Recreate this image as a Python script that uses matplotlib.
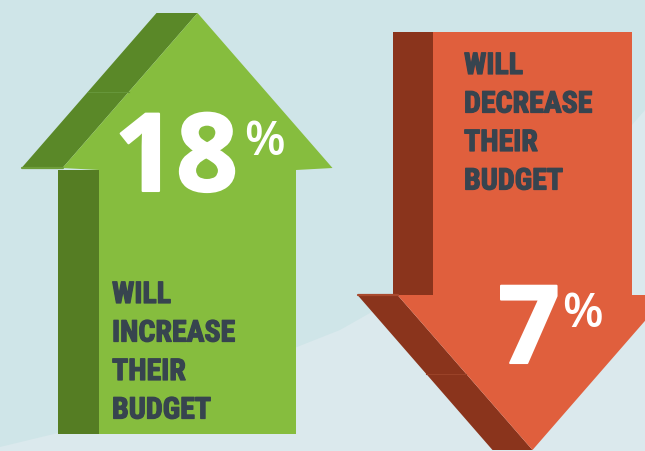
import matplotlib
matplotlib.use("Agg")
import matplotlib.pyplot as plt
from matplotlib.patches import Polygon
from matplotlib import font_manager
import matplotlib.patheffects as pe

# ---- data ----
values = [18, 7]
labels = ["WILL\nINCREASE\nTHEIR\nBUDGET", "WILL\nDECREASE\nTHEIR\nBUDGET"]
directions = ["up", "down"]

# ---- style ----
BG_TOP = "#cfe5e8"
BG_LOW = "#dbe9ed"
LIGHT = ["#86bd3e", "#e05f3d"]
DARK_SHAFT = ["#557d23", "#8a341c"]
DARK_HEAD = ["#5a8828", "#8a341c"]
RIM = ["#6e9e3a", "#a84a2e"]
TEXT = "#37444f"

names = {f.name for f in font_manager.fontManager.ttflist}
cond = "DejaVu Sans"
for cand in ["Liberation Sans Narrow", "Roboto Condensed", "Open Sans Condensed", "Liberation Sans"]:
    if cand in names:
        cond = cand
        break
numfont = "Open Sans" if "Open Sans" in names else "DejaVu Sans"

fig = plt.figure(figsize=(6.45, 4.51), dpi=100)
ax = fig.add_axes([0, 0, 1, 1])
W, H = 645, 451
ax.set_xlim(0, W)
ax.set_ylim(H, 0)
ax.axis("off")
fig.patch.set_facecolor(BG_TOP)

# background lighter hill
ax.add_patch(Polygon([(0, 447), (58, 433), (180, 391), (297, 347), (340, 330),
                      (370, 313), (500, 223), (632, 125), (645, 110),
                      (645, 451), (0, 451)], closed=True, fc=BG_LOW, ec="none"))

# ---- arrow layout (pixels) ----
layout = [
    dict(cx=197.5, sl=99, sr=296, top=170, bot=434, hw=135, tip=13, depth=41),
    dict(cx=532.5, sl=433, sr=632, top=32, bot=295, hw=135, tip=450, depth=40),
]

def draw_arrow(i, d, L):
    light, dshaft, dhead, rim = LIGHT[i], DARK_SHAFT[i], DARK_HEAD[i], RIM[i]
    dp = L["depth"]
    if d == "up":
        base = L["top"]
        ax.add_patch(Polygon([(L["sl"] - dp, base), (L["sl"], base), (L["sl"], L["bot"]),
                              (L["sl"] - dp, L["bot"])], fc=dshaft, ec="none"))
        hl = L["cx"] - L["hw"]
        ax.add_patch(Polygon([(hl - dp, base - 2), (hl, base - 2), (L["cx"], L["tip"]),
                              (L["cx"] - dp, L["tip"])], fc=dhead, ec="none"))
        ax.plot([hl - dp, hl], [base - 2, base - 2], color=rim, lw=1.6, solid_capstyle="round")
        ys = 92
        t = (base - 2 - ys) / (base - 2 - L["tip"])
        xs = hl + t * (L["cx"] - hl)
        ax.plot([xs - dp, xs], [ys, ys], color="#66963a", lw=0.8)
        ax.add_patch(Polygon([(L["sl"], L["bot"]), (L["sl"], base), (hl, base - 2),
                              (L["cx"], L["tip"]), (L["cx"] + L["hw"], base - 2),
                              (L["sr"], base), (L["sr"], L["bot"])], fc=light, ec="none"))
    else:
        base = L["bot"]
        ax.add_patch(Polygon([(L["sl"] - dp, L["top"]), (L["sl"], L["top"]), (L["sl"], base),
                              (L["sl"] - dp, base)], fc=dshaft, ec="none"))
        hl = L["cx"] - L["hw"]
        ax.add_patch(Polygon([(hl - dp, base), (hl, base), (L["cx"], L["tip"]),
                              (L["cx"] - dp, L["tip"])], fc=dhead, ec="none"))
        ax.plot([hl - dp, hl], [base, base], color=rim, lw=1.6, solid_capstyle="round")
        ys = 374
        t = (ys - base) / (L["tip"] - base)
        xs = hl + t * (L["cx"] - hl)
        ax.plot([xs - dp, xs], [ys, ys], color="#9a4228", lw=0.8)
        ax.add_patch(Polygon([(L["sl"], L["top"]), (L["sl"], base), (hl, base),
                              (L["cx"], L["tip"]), (L["cx"] + L["hw"], base),
                              (L["sr"], base), (L["sr"], L["top"])], fc=light, ec="none"))

for i, (d, L) in enumerate(zip(directions, layout)):
    draw_arrow(i, d, L)

# ---- text layout ----
num_pos = [(238, 191), (560, 363)]
pct_pos = [(244, 155), (562, 327)]
lab_pos = [(112, 303), (464, 74)]
line_gap = 38.5

for i in range(2):
    nx, ny = num_pos[i]
    ax.text(nx, ny, f"{values[i]}", fontsize=78, fontweight="bold", family=numfont,
            color="white", ha="right", va="baseline",
            path_effects=[pe.withStroke(linewidth=1.5, foreground="white")])
    px, py = pct_pos[i]
    ax.text(px, py, "%", fontsize=34, fontweight="semibold", family=numfont,
            color="white", ha="left", va="baseline")
    lx, ly = lab_pos[i]
    for k, line in enumerate(labels[i].split("\n")):
        ax.text(lx, ly + k * line_gap, line, fontsize=21.5, fontweight="bold",
                family=[cond, "DejaVu Sans"], color=TEXT, ha="left", va="baseline",
                path_effects=[pe.withStroke(linewidth=0.9, foreground=TEXT)])

fig.savefig("out.png", dpi=100, facecolor=fig.get_facecolor())
